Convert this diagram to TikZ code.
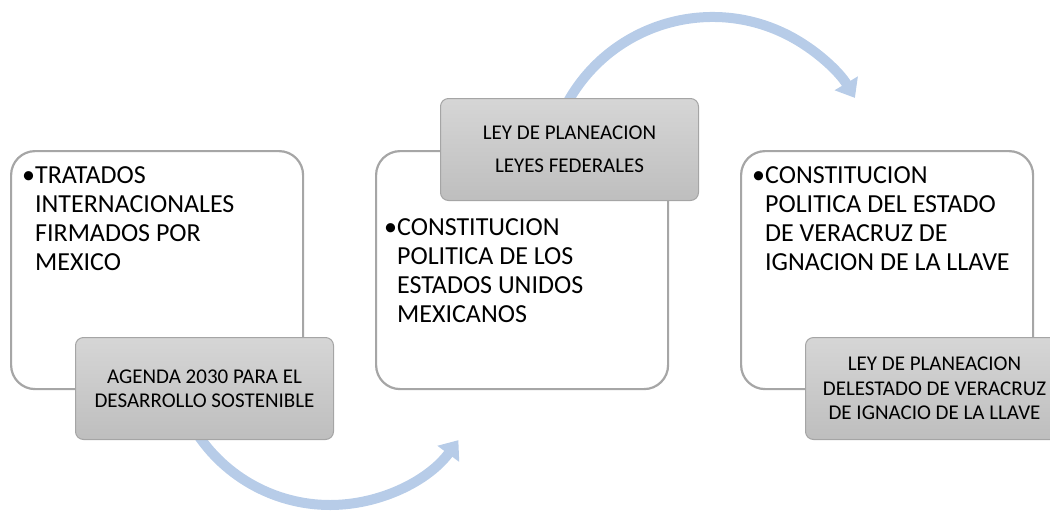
\documentclass[tikz,border=0pt]{standalone}
\usepackage{fontspec}
\setmainfont{Carlito}
\usetikzlibrary{arrows.meta}
\definecolor{arrowblue}{RGB}{183,204,232}
\definecolor{boxline}{RGB}{166,166,166}
\definecolor{graytop}{RGB}{214,214,214}
\definecolor{graybot}{RGB}{190,190,190}
\definecolor{grayline}{RGB}{165,165,165}
\begin{document}
\begin{tikzpicture}[x=1pt,y=-1pt,
 whitebox/.style={draw=boxline, line width=2.2pt, fill=white, rounded corners=24pt, minimum width=292pt, minimum height=238pt, inner sep=0pt, anchor=north west},
 graybox/.style={draw=grayline, line width=1pt, top color=graytop, bottom color=graybot, rounded corners=8pt, minimum width=258pt, minimum height=102pt, inner sep=0pt, anchor=north west, align=center, font=\fontsize{21}{24.5}\selectfont},
 maintext/.style={anchor=base west, inner sep=0pt, align=left, font=\fontsize{26}{29}\selectfont},
 flow/.style={draw=arrowblue, line width=10pt, -{Triangle[width=26pt,length=17pt]}}
]
\useasboundingbox (0,0) rectangle (1050,515);
\clip (0,0) rectangle (1050,515);
% connectors (behind boxes)
\coordinate (a1s) at ({330+159.5*cos(212)},{345.5-159.5*sin(212)});
\draw[flow] (a1s) arc[start angle=212, end angle=323.6, radius=159.5pt];
\coordinate (a2s) at ({712.5+165.8*cos(151)},{182.8-165.8*sin(151)});
\draw[flow] (a2s) arc[start angle=151, end angle=30.8, radius=165.8pt];
% box 1
\node[whitebox] (b1) at (10,150) {};
\node[maintext] (t1) at (22,270) {•TRATADOS\\\phantom{•}INTERNACIONALES\\\phantom{•}FIRMADOS POR\\\phantom{•}MEXICO};
\node[graybox] (g1) at (75,337) {AGENDA 2030 PARA EL\\DESARROLLO SOSTENIBLE};
% box 2
\node[whitebox] (b2) at (375,150) {};
\node[maintext] (t2) at (384,322) {•CONSTITUCION\\\phantom{•}POLITICA DE LOS\\\phantom{•}ESTADOS UNIDOS\\\phantom{•}MEXICANOS};
\node[graybox] (g2) at (440,98) {LEY DE PLANEACION\\[8pt]LEYES FEDERALES};
% box 3
\node[whitebox] (b3) at (740,150) {};
\node[maintext] (t3) at (752,270) {•CONSTITUCION\\\phantom{•}POLITICA DEL ESTADO\\\phantom{•}DE VERACRUZ DE\\\phantom{•}IGNACION DE LA LLAVE};
\node[graybox] (g3) at (805,337) {LEY DE PLANEACION\\DELESTADO DE VERACRUZ\\DE IGNACIO DE LA LLAVE};
\end{tikzpicture}
\end{document}
